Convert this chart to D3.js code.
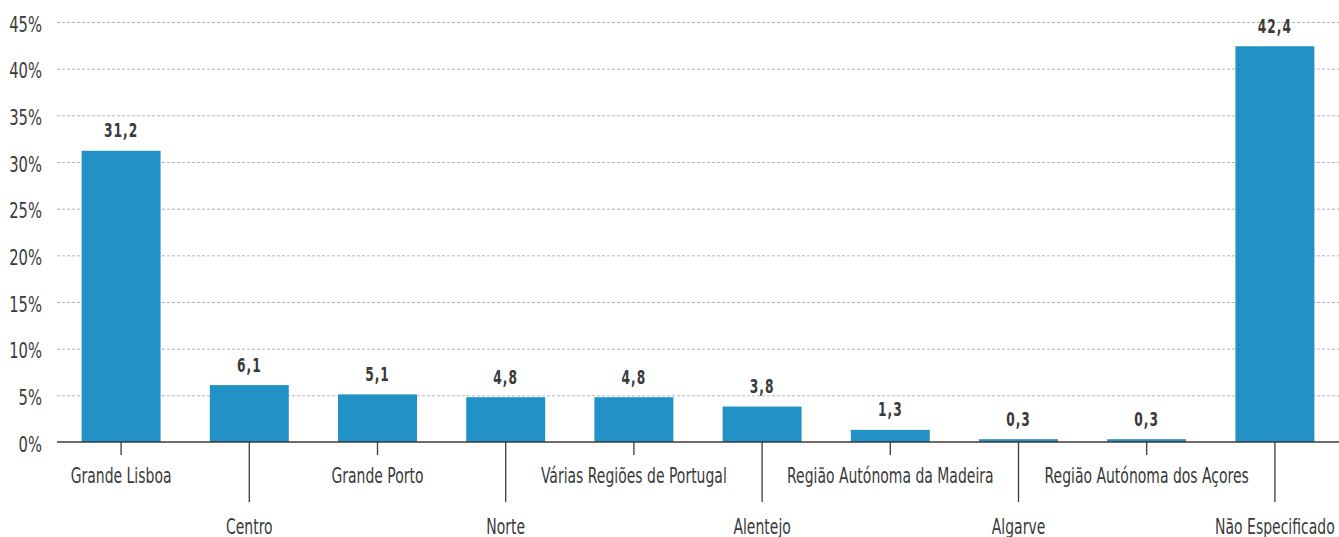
<!DOCTYPE html>
<html>
<head>
<meta charset="utf-8">
<script src="https://cdn.jsdelivr.net/npm/d3@7"></script>
<style>
  html, body { margin: 0; padding: 0; background: #fff; overflow: hidden; }
  svg { display: block; }
  text { font-family: "DejaVu Sans Condensed", "DejaVu Sans", sans-serif; fill: #3a3a3a; }
</style>
</head>
<body>
<svg id="chart" width="1339" height="537"></svg>
<script>
const categories = ["Grande Lisboa", "Centro", "Grande Porto", "Norte", "Várias Regiões de Portugal", "Alentejo", "Região Autónoma da Madeira", "Algarve", "Região Autónoma dos Açores", "Não Especificado"];
const values = [31.2, 6.1, 5.1, 4.8, 4.8, 3.8, 1.3, 0.3, 0.3, 42.4];
const yTicks = [0, 5, 10, 15, 20, 25, 30, 35, 40, 45];

const W = 1339, H = 537;
const margin = { left: 57, right: 0, top: 22, bottom: 95 };
const svg = d3.select("#chart");

const x = d3.scaleBand()
  .domain(categories)
  .range([margin.left, W - margin.right])
  .paddingInner(0.384)
  .paddingOuter(0.192);

const y = d3.scaleLinear()
  .domain([0, 45])
  .range([H - margin.bottom, margin.top]);

// grid lines
const grid = svg.append("g")
  .attr("transform", `translate(${margin.left},0)`)
  .call(d3.axisLeft(y).tickValues(yTicks.filter(d => d > 0)).tickSize(-(W - margin.left - margin.right)).tickFormat(""));
grid.select(".domain").remove();
grid.selectAll("line").attr("stroke", "#b5b5b5").attr("stroke-dasharray", "3,2").attr("stroke-width", 1);

// y labels
svg.append("g").selectAll("text")
  .data(yTicks)
  .join("text")
  .attr("transform", d => `translate(42,${y(d) + 9.5}) scale(0.78,1)`)
  .attr("text-anchor", "end")
  .attr("font-size", 21)
  .text(d => d + "%");

// bars
svg.append("g").selectAll("rect")
  .data(values)
  .join("rect")
  .attr("x", (d, i) => x(categories[i]))
  .attr("y", d => y(d))
  .attr("width", x.bandwidth())
  .attr("height", d => y(0) - y(d))
  .attr("fill", "#2291c6");

// value labels
svg.append("g").selectAll("text")
  .data(values)
  .join("text")
  .attr("transform", (d, i) => `translate(${x(categories[i]) + x.bandwidth() / 2},${y(d) - 13.5}) scale(0.68,1)`)
  .attr("text-anchor", "middle")
  .attr("font-size", 20)
  .attr("font-weight", "bold")
  .attr("letter-spacing", "1.5px")
  .text(d => d.toFixed(1).replace(".", ","));

// x axis baseline
svg.append("line")
  .attr("x1", margin.left).attr("x2", W)
  .attr("y1", y(0)).attr("y2", y(0))
  .attr("stroke", "#3a3a3a").attr("stroke-width", 1.5);

const ticks = svg.append("g").selectAll("g")
  .data(categories)
  .join("g")
  .attr("transform", d => `translate(${x(d) + x.bandwidth() / 2},${y(0)})`);
ticks.append("line")
  .attr("y1", 0)
  .attr("y2", (d, i) => i % 2 === 0 ? 13 : 60)
  .attr("stroke", "#3a3a3a")
  .attr("stroke-width", 1.3);
ticks.append("text")
  .attr("transform", (d, i) => `translate(0,${i % 2 === 0 ? 41 : 91.5}) scale(0.74,1)`)
  .attr("text-anchor", "middle")
  .attr("font-size", 21)
  .text(d => d);
</script>
</body>
</html>
